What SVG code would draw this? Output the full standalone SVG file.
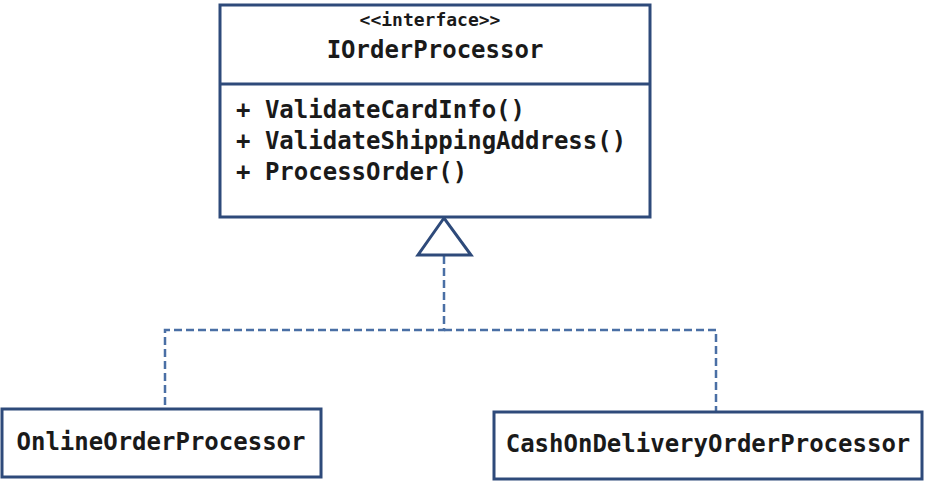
<svg xmlns="http://www.w3.org/2000/svg" width="927" height="481" viewBox="0 0 927 481">
<style>
.box{fill:#ffffff;stroke:#2e4a7a;stroke-width:3}
.t{font-family:"DejaVu Sans Mono","Liberation Mono",monospace;font-weight:bold;font-size:24px;fill:#1a1a1a}
.dash{fill:none;stroke:#4a6fa5;stroke-width:2.5;stroke-dasharray:8 4}
</style>
<rect x="0" y="0" width="927" height="481" fill="#ffffff"/>
<g id="connectors">
<polyline class="dash" points="444,256 444,330 165,330 165,408"/>
<polyline class="dash" points="444,330 716,330 716,411"/>
<polygon points="444,218 418,255 471,255" fill="#ffffff" stroke="#2e4a7a" stroke-width="3"/>
</g>
<g id="IOrderProcessor">
<rect class="box" x="220" y="5" width="430" height="212"/>
<line x1="220" y1="84" x2="650" y2="84" stroke="#2e4a7a" stroke-width="3"/>
<text class="t" x="430" y="26" text-anchor="middle" style="font-size:18px">&lt;&lt;interface&gt;&gt;</text>
<text class="t" x="435" y="58" text-anchor="middle">IOrderProcessor</text>
<text class="t" x="236" y="118">+ ValidateCardInfo()</text>
<text class="t" x="236" y="149">+ ValidateShippingAddress()</text>
<text class="t" x="236" y="180">+ ProcessOrder()</text>
</g>
<g id="OnlineOrderProcessor">
<rect class="box" x="2" y="409" width="319" height="68"/>
<text class="t" x="161" y="450" text-anchor="middle">OnlineOrderProcessor</text>
</g>
<g id="CashOnDeliveryOrderProcessor">
<rect class="box" x="494" y="412" width="428" height="67"/>
<text class="t" x="708" y="452" text-anchor="middle">CashOnDeliveryOrderProcessor</text>
</g>
</svg>
